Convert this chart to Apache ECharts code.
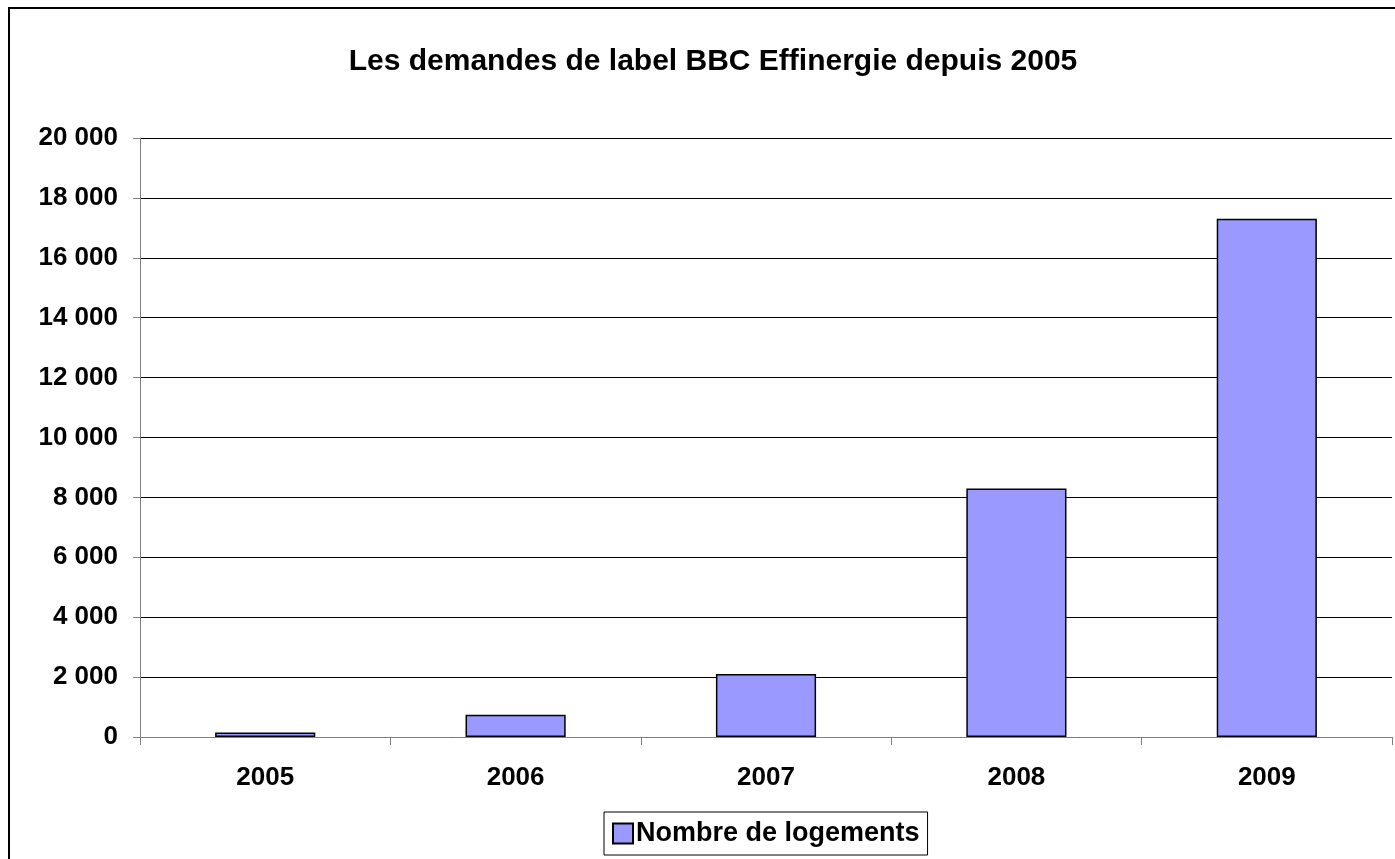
<!DOCTYPE html>
<html>
<head>
<meta charset="utf-8">
<title>Les demandes de label BBC Effinergie depuis 2005</title>
<script src="https://cdn.jsdelivr.net/npm/echarts@6/dist/echarts.min.js"></script>
<style>
  html, body { margin: 0; padding: 0; background: #fff; }
  #chart { width: 1395px; height: 859px; }
</style>
</head>
<body>
<div id="chart"></div>
<script>
// données
var annees = ['2005', '2006', '2007', '2008', '2009']
var logements = [150, 740, 2100, 8300, 17300]
var titre = 'Les demandes de label BBC Effinergie depuis 2005'
var nomSerie = 'Nombre de logements'

var police = '"Liberation Sans", Arial, sans-serif'

var myChart = echarts.init(document.getElementById('chart'))

// séparateur de milliers avec espace
function milliers (v) {
  return String(v).replace(/\B(?=(\d{3})+(?!\d))/g, ' ')
}

var option = {
  backgroundColor: '#fff',
  animation: false,
  graphic: [
    {
      // cadre du graphique
      type: 'rect',
      shape: { x: 9, y: 8, width: 1420, height: 900 },
      style: { fill: 'none', stroke: '#000', lineWidth: 2 },
      silent: true
    },
    {
      type: 'text',
      x: 713,
      y: 62,
      style: {
        text: titre,
        fontFamily: police,
        fontWeight: 'bold',
        fontSize: 30,
        fill: '#000',
        textAlign: 'center',
        textVerticalAlign: 'middle'
      }
    }
  ],
  grid: {
    left: 140,
    right: 3,
    top: 138,
    bottom: 122,
    containLabel: false
  },
  legend: {
    data: [nomSerie],
    left: 604,
    top: 812,
    padding: [8, 8, 8, 8],
    itemWidth: 20,
    itemHeight: 20,
    borderColor: '#000',
    borderWidth: 1,
    icon: 'rect',
    textStyle: {
      fontFamily: police,
      fontWeight: 'bold',
      fontSize: 27,
      color: '#000',
      padding: [0, 0, 0, -2]
    }
  },
  xAxis: {
    type: 'category',
    data: annees,
    axisLine: { lineStyle: { color: '#808080', width: 1 } },
    axisTick: { show: true, length: 8, lineStyle: { color: '#808080' } },
    axisLabel: {
      margin: 28,
      fontFamily: police,
      fontWeight: 'bold',
      fontSize: 26,
      color: '#000'
    },
    splitLine: { show: false }
  },
  yAxis: {
    type: 'value',
    min: 0,
    max: 20000,
    interval: 2000,
    axisLine: { show: true, lineStyle: { color: '#808080', width: 1 } },
    axisTick: { show: true, length: 7, lineStyle: { color: '#808080' } },
    axisLabel: {
      margin: 22,
      fontFamily: police,
      fontWeight: 'bold',
      fontSize: 26,
      color: '#000',
      formatter: milliers
    },
    splitLine: { show: true, lineStyle: { color: '#000', width: 1 } }
  },
  series: [
    {
      name: nomSerie,
      type: 'bar',
      data: logements,
      barWidth: '40%',
      itemStyle: {
        color: '#9999FF',
        borderColor: '#000',
        borderWidth: 1.5
      }
    }
  ]
}

myChart.setOption(option)
</script>
</body>
</html>
